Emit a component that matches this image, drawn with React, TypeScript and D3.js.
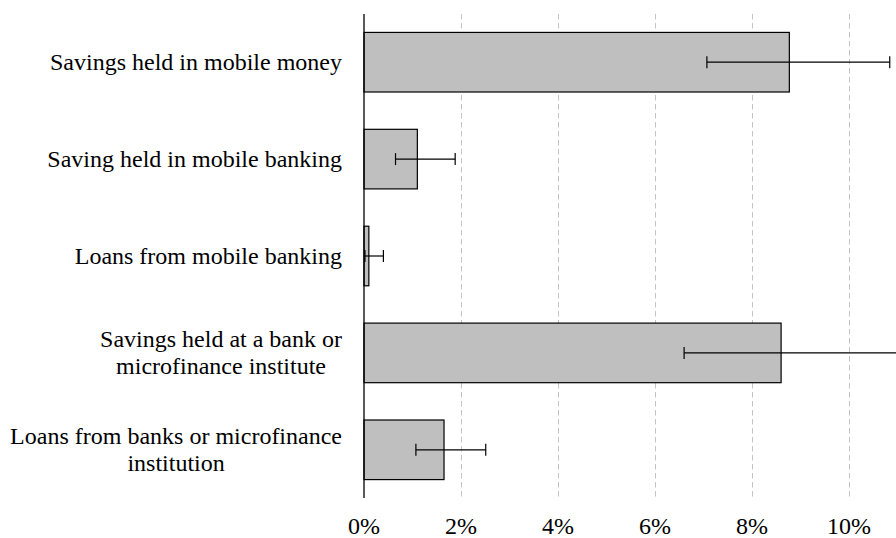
import React, { useLayoutEffect, useRef, useState } from "react";
import * as d3 from "d3";

const categories: string[][] = [
  ["Savings held in mobile money"],
  ["Saving held in mobile banking"],
  ["Loans from mobile banking"],
  ["Savings held at a bank or", "microfinance institute"],
  ["Loans from banks or microfinance", "institution"],
];
const values: number[] = [8.77, 1.1, 0.1, 8.6, 1.65];
const lowerCI: number[] = [7.07, 0.65, 0.02, 6.6, 1.07];
const upperCI: number[] = [10.84, 1.88, 0.4, 11.2, 2.51];
const tickValues: number[] = [0, 2, 4, 6, 8, 10];
const tickLabels: string[] = ["0%", "2%", "4%", "6%", "8%", "10%"];

const W = 896;
const H = 538;
const FONT = "Liberation Serif";
const FS = 24;
const LH = 27;
const RIGHT_EDGE = 342;

const x = d3.scaleLinear().domain([0, 11]).range([364, 364 + 11 * 48.5]);
const y = d3
  .scaleBand<string>()
  .domain(categories.map((_, i) => String(i)))
  .range([14, 498])
  .paddingInner(0.385)
  .paddingOuter(0.19);
const bw = y.bandwidth();

function Label({ lines, cy }: { lines: string[]; cy: number }) {
  const gRef = useRef<SVGGElement | null>(null);
  const [maxW, setMaxW] = useState(0);
  useLayoutEffect(() => {
    const measure = () => {
      if (!gRef.current) return;
      const ts = Array.from(gRef.current.querySelectorAll("text")) as SVGTextElement[];
      const m = d3.max(ts, (t) => t.getComputedTextLength()) || 0;
      setMaxW(m);
    };
    measure();
    const f = (document as any).fonts;
    if (f && f.ready) f.ready.then(measure);
  }, []);
  const cx = RIGHT_EDGE - maxW / 2;
  return (
    <g ref={gRef}>
      {lines.map((ln, j) => (
        <text
          key={j}
          x={cx}
          y={cy + 7.5 - ((lines.length - 1) * LH) / 2 + j * LH}
          textAnchor="middle"
          fontFamily={FONT}
          fontSize={FS}
        >
          {ln}
        </text>
      ))}
    </g>
  );
}

export default function App() {
  const x0 = x(0);
  return (
    <div style={{ position: "absolute", left: 0, top: 0, width: W, height: H, background: "#fff" }}>
      <svg width={W} height={H} fontFamily={FONT}>
        {tickValues
          .filter((t) => t > 0)
          .map((t) => (
            <line
              key={`g${t}`}
              x1={Math.round(x(t)) + 0.5}
              x2={Math.round(x(t)) + 0.5}
              y1={14}
              y2={498}
              stroke="#c4c4c4"
              strokeWidth={1}
              strokeDasharray="5.5,3.5"
            />
          ))}
        {values.map((v, i) => (
          <rect
            key={`b${i}`}
            x={x0}
            y={y(String(i))}
            width={x(v) - x0}
            height={bw}
            fill="#bfbfbf"
            stroke="#000"
            strokeWidth={1.2}
          />
        ))}
        {values.map((_, i) => {
          const cy = y(String(i))! + bw / 2;
          const x1 = x(lowerCI[i]);
          const x2 = x(upperCI[i]);
          return (
            <g key={`e${i}`} stroke="#000" strokeWidth={1.2}>
              <line x1={x1} x2={x2} y1={cy} y2={cy} />
              <line x1={x1} x2={x1} y1={cy - 6} y2={cy + 6} />
              <line x1={x2} x2={x2} y1={cy - 6} y2={cy + 6} />
            </g>
          );
        })}
        <line x1={x0} x2={x0} y1={14} y2={498} stroke="#000" strokeWidth={1.3} />
        {tickValues.map((t, i) => (
          <text
            key={`t${t}`}
            x={x(t)}
            y={534}
            textAnchor="middle"
            fontFamily={FONT}
            fontSize={FS}
          >
            {tickLabels[i]}
          </text>
        ))}
        {categories.map((lines, i) => (
          <Label key={`l${i}`} lines={lines} cy={y(String(i))! + bw / 2} />
        ))}
      </svg>
    </div>
  );
}
